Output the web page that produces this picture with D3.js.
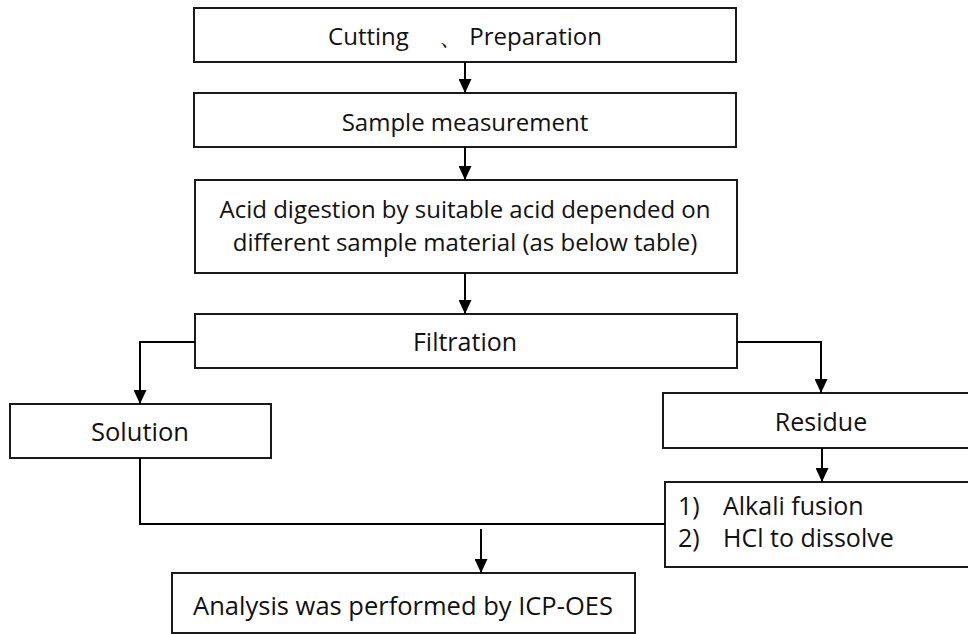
<!DOCTYPE html>
<html>
<head>
<meta charset="utf-8">
<script src="https://cdn.jsdelivr.net/npm/d3@7"></script>
<style>
  html, body { margin: 0; padding: 0; background: #fff; }
  svg text { font-family: "Open Sans", "Noto Sans", sans-serif; fill: #111; }
</style>
</head>
<body>
<div id="chart-area"><svg></svg></div>
<script>
const chartSize = { width: 968, height: 634 };

// texts of the flow
const mainSteps = ["Cutting \u3000\u3001 Preparation", "Sample measurement"];
const digestionLines = ["Acid digestion by suitable acid depended on", "different sample material (as below table)"];
const splitStep = "Filtration";
const branchLabels = ["Solution", "Residue"];
const residueNums = ["1)", "2)"];
const residueSteps = ["Alkali fusion", "HCl to dissolve"];
const finalStep = "Analysis was performed by ICP-OES";

// box layout [x, y, w, h]
const boxes = {
    cut: [194, 8, 542, 54],
    sample: [194, 93, 542, 54],
    acid: [195, 180, 542, 93],
    filt: [195, 314, 542, 54],
    sol: [10, 404, 261, 54],
    res: [663, 393, 330, 55],
    alk: [665, 482, 330, 85],
    icp: [172, 573, 463, 60]
};

const svg = d3.select("#chart-area svg")
    .attr("width", chartSize.width)
    .attr("height", chartSize.height);

svg.append("defs").append("marker")
    .attr("id", "head")
    .attr("markerUnits", "userSpaceOnUse")
    .attr("viewBox", "0 0 14 13")
    .attr("refX", 14).attr("refY", 6.5)
    .attr("markerWidth", 14).attr("markerHeight", 13)
    .attr("orient", "auto")
    .append("path")
    .attr("d", "M0,0L14,6.5L0,13Z")
    .attr("fill", "#000");

const drawBox = b => svg.append("rect")
    .attr("x", b[0]).attr("y", b[1])
    .attr("width", b[2]).attr("height", b[3])
    .attr("fill", "none")
    .attr("stroke", "#1a1a1a")
    .attr("stroke-width", 2);

const drawText = (t, x, y, size, anchor = "middle") => svg.append("text")
    .attr("x", x).attr("y", y)
    .attr("text-anchor", anchor)
    .attr("dominant-baseline", "central")
    .attr("font-size", size)
    .text(t);

const link = (pts, arrow) => {
    const p = svg.append("path")
        .attr("d", d3.line()(pts))
        .attr("fill", "none")
        .attr("stroke", "#000")
        .attr("stroke-width", 2);
    if (arrow) p.attr("marker-end", "url(#head)");
};

Object.values(boxes).forEach(drawBox);

const mid = b => [b[0] + b[2] / 2, b[1] + b[3] / 2];

drawText(mainSteps[0], 465, mid(boxes.cut)[1], 24);
drawText(mainSteps[1], 465, mid(boxes.sample)[1] + 1, 24);
digestionLines.forEach((t, i) => drawText(t, 465, 208 + i * 33, 24));
drawText(splitStep, 465, mid(boxes.filt)[1], 25);
drawText(branchLabels[0], 140, mid(boxes.sol)[1], 25.5);
drawText(branchLabels[1], 821, mid(boxes.res)[1], 25);
residueNums.forEach((t, i) => drawText(t, 678, 505 + i * 32, 25, "start"));
residueSteps.forEach((t, i) => drawText(t, 723, 505 + i * 32, 25, "start"));
drawText(finalStep, 403, 605, 25.5);

// connectors
link([[465, 62], [465, 93]], true);
link([[465, 147], [465, 180]], true);
link([[465, 273], [465, 314]], true);
link([[195, 342], [140, 342], [140, 404]], true);
link([[737, 342], [821, 342], [821, 393]], true);
link([[822, 448], [822, 482]], true);
link([[140, 458], [140, 524], [665, 524]], false);
link([[481, 529], [481, 573]], true);
</script>
</body>
</html>
